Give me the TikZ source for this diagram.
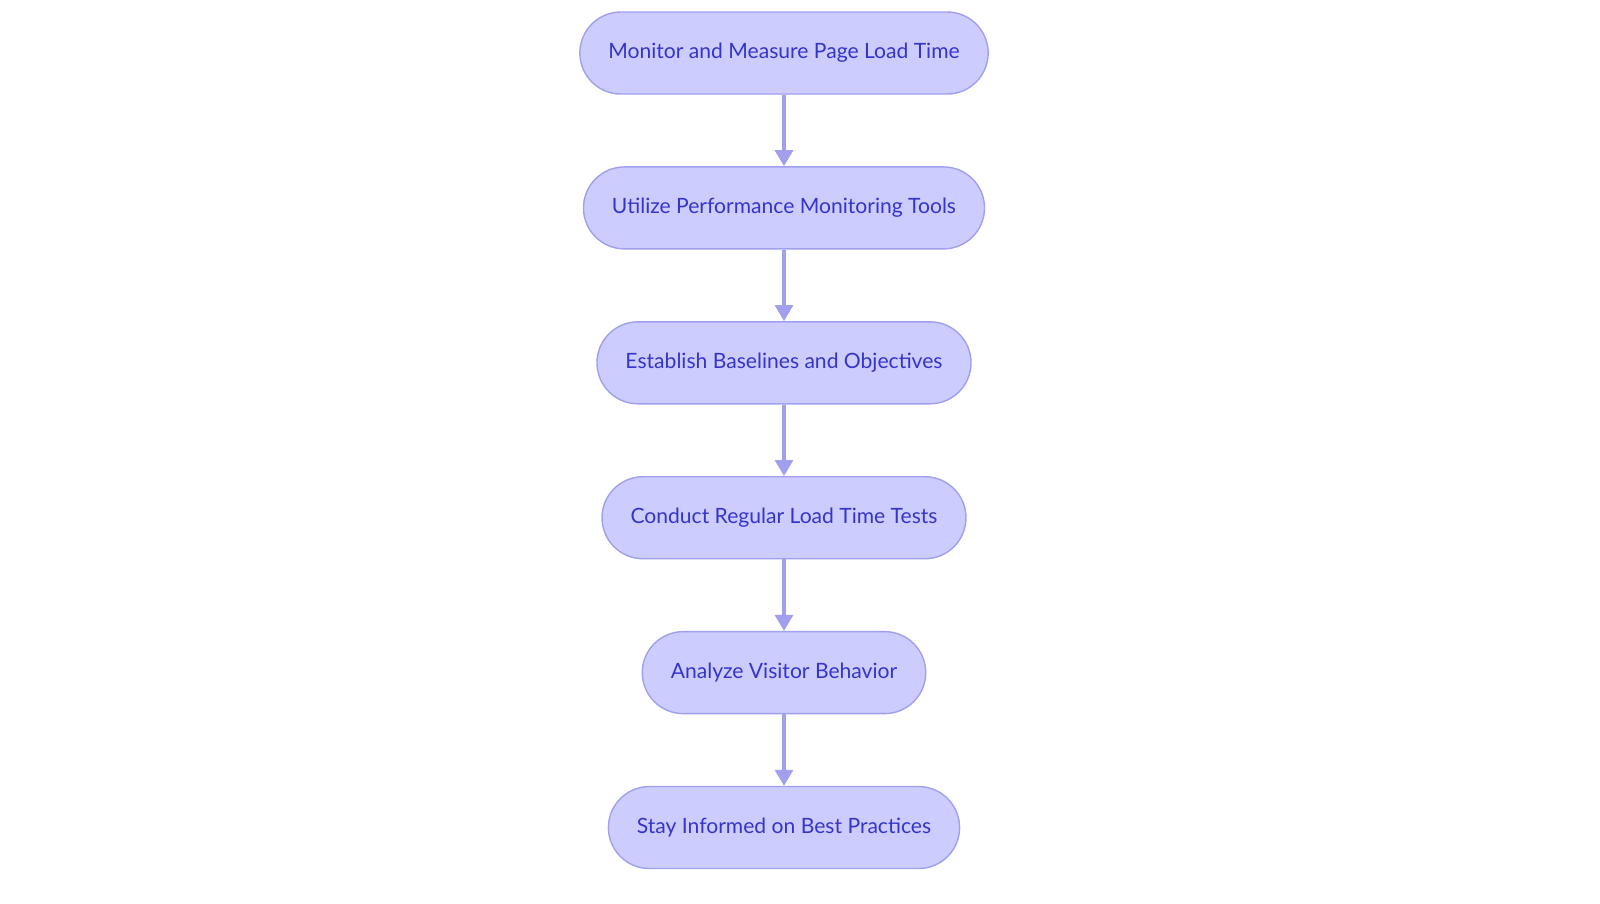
\documentclass[tikz,border=0pt]{standalone}
\usepackage{fontspec}
\setmainfont{Lato}
\usetikzlibrary{
  positioning,
  arrows.meta
}
\definecolor{boxfill}{HTML}{CCCCFF}
\definecolor{boxline}{HTML}{A0A0EE}
\definecolor{boxtext}{HTML}{3535CC}
\tikzset{stepnode/.style={
  rectangle,
  rounded corners=0.82cm,
  draw=boxline, line width=0.8pt,
  fill=boxfill,
  text=boxtext,
  font=\fontsize{12}{14.4}\selectfont,
  minimum height=1.64cm,
  inner xsep=0.57cm
}}
\tikzset{flow/.style={
  draw=boxline, line width=1.8pt,
  -{Triangle[width=0.36cm,length=0.32cm]}
}}

\begin{document}
\begin{tikzpicture}[node distance=1.43cm]
    \useasboundingbox (0,0) rectangle (32,-18.06);
    \node (monitor) [stepnode] at (15.68,-1.06) {Monitor and Measure Page Load Time};
    \node (tools) [stepnode,below=of monitor] {Utilize Performance Monitoring Tools};
    \node (baseline) [stepnode,below=of tools] {Establish Baselines and Objectives};
    \node (tests) [stepnode,below=of baseline] {Conduct Regular Load Time Tests};
    \node (visitor) [stepnode,below=of tests] {Analyze Visitor Behavior};
    \node (practice) [stepnode,below=of visitor] {Stay Informed on Best Practices};
    \draw [flow] (monitor) -- (tools);
    \draw [flow] (tools) -- (baseline);
    \draw [flow] (baseline) -- (tests);
    \draw [flow] (tests) -- (visitor);
    \draw [flow] (visitor) -- (practice);
  \end{tikzpicture}
\end{document}
